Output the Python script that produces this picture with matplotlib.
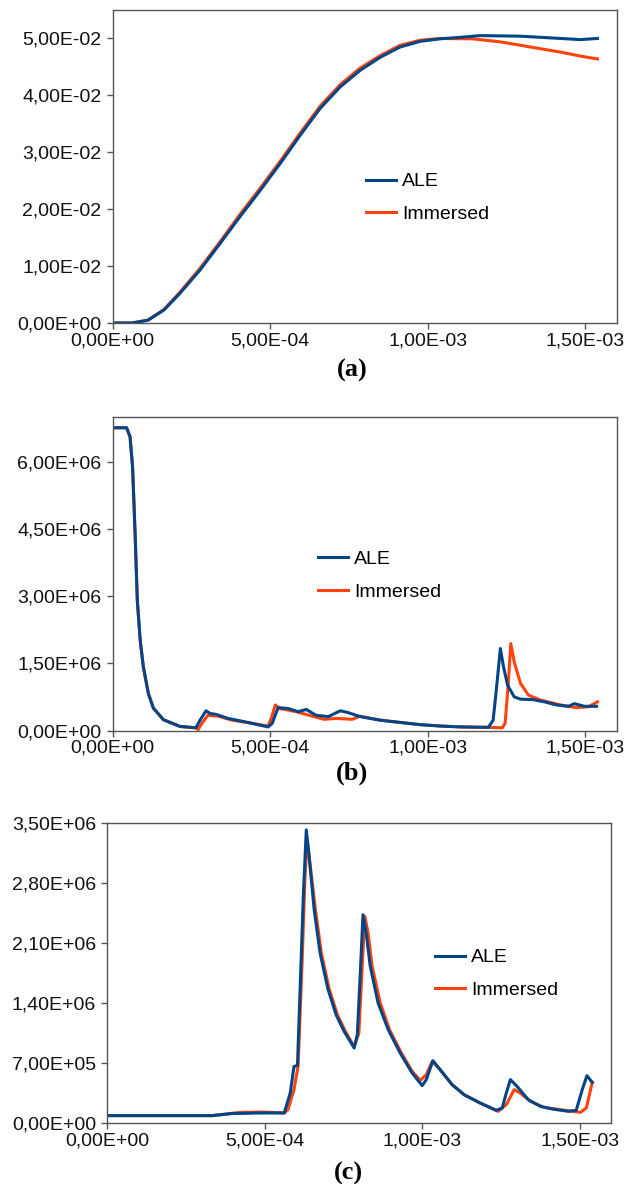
import matplotlib
matplotlib.use("Agg")
import matplotlib.pyplot as plt
from matplotlib.ticker import FuncFormatter, MultipleLocator

plt.rcParams["font.family"] = ["Liberation Sans", "DejaVu Sans"]

BLUE = "#004586"
ORANGE = "#ff420e"

# ---- (a) displacement ----
a_ale_t = [0.0, 0.061e-3, 0.112e-3, 0.163e-3, 0.213e-3, 0.277e-3, 0.341e-3, 0.404e-3,
           0.468e-3, 0.531e-3, 0.595e-3, 0.658e-3, 0.722e-3, 0.785e-3, 0.849e-3,
           0.912e-3, 0.976e-3, 1.039e-3, 1.103e-3, 1.166e-3, 1.294e-3, 1.357e-3,
           1.421e-3, 1.484e-3, 1.538e-3]
a_ale_v = [0.0, 0.0, 0.0005, 0.0023, 0.0052, 0.0093, 0.0140, 0.0187,
           0.0233, 0.0280, 0.0330, 0.0377, 0.0415, 0.0444, 0.0467,
           0.0485, 0.0495, 0.04994, 0.0502, 0.0505, 0.0504, 0.0502,
           0.0500, 0.0498, 0.0500]
a_imm_t = [0.0, 0.061e-3, 0.112e-3, 0.163e-3, 0.213e-3, 0.277e-3, 0.341e-3, 0.404e-3,
           0.468e-3, 0.531e-3, 0.595e-3, 0.658e-3, 0.722e-3, 0.785e-3, 0.849e-3,
           0.912e-3, 0.976e-3, 1.039e-3, 1.103e-3, 1.141e-3, 1.230e-3, 1.294e-3,
           1.357e-3, 1.421e-3, 1.484e-3, 1.538e-3]
a_imm_v = [0.0, 0.0, 0.0005, 0.0024, 0.0054, 0.0096, 0.0143, 0.0191,
           0.0237, 0.0284, 0.0334, 0.0381, 0.0419, 0.0448, 0.0470,
           0.0488, 0.0497, 0.0500, 0.04995, 0.04994, 0.0494, 0.0488,
           0.0482, 0.0476, 0.0469, 0.0464]

# ---- (b) pressure ----
b_ale_t = [0.0, 0.044e-3, 0.055e-3, 0.063e-3, 0.071e-3, 0.078e-3, 0.087e-3, 0.097e-3,
           0.113e-3, 0.129e-3, 0.161e-3, 0.214e-3, 0.264e-3, 0.277e-3, 0.296e-3,
           0.309e-3, 0.328e-3, 0.366e-3, 0.429e-3, 0.493e-3, 0.506e-3, 0.525e-3,
           0.557e-3, 0.588e-3, 0.614e-3, 0.645e-3, 0.684e-3, 0.722e-3, 0.747e-3,
           0.785e-3, 0.849e-3, 0.912e-3, 0.976e-3, 1.039e-3, 1.103e-3, 1.192e-3,
           1.207e-3, 1.217e-3, 1.230e-3, 1.240e-3, 1.253e-3, 1.274e-3, 1.294e-3,
           1.332e-3, 1.370e-3, 1.408e-3, 1.446e-3, 1.465e-3, 1.497e-3, 1.535e-3]
b_ale_v = [6.76e6, 6.76e6, 6.56e6, 5.89e6, 4.41e6, 2.92e6, 2.03e6, 1.43e6,
           0.83e6, 0.50e6, 0.24e6, 0.09e6, 0.06e6, 0.23e6, 0.44e6,
           0.38e6, 0.36e6, 0.27e6, 0.18e6, 0.08e6, 0.16e6, 0.51e6,
           0.49e6, 0.42e6, 0.47e6, 0.34e6, 0.31e6, 0.44e6, 0.40e6,
           0.31e6, 0.23e6, 0.18e6, 0.13e6, 0.10e6, 0.08e6, 0.07e6,
           0.23e6, 0.90e6, 1.83e6, 1.42e6, 1.01e6, 0.75e6, 0.70e6,
           0.69e6, 0.64e6, 0.57e6, 0.54e6, 0.60e6, 0.54e6, 0.54e6]
b_imm_t = [0.0, 0.044e-3, 0.055e-3, 0.063e-3, 0.071e-3, 0.078e-3, 0.087e-3, 0.097e-3,
           0.113e-3, 0.129e-3, 0.161e-3, 0.214e-3, 0.264e-3, 0.271e-3, 0.283e-3,
           0.302e-3, 0.334e-3, 0.379e-3, 0.442e-3, 0.493e-3, 0.503e-3, 0.516e-3,
           0.531e-3, 0.582e-3, 0.633e-3, 0.671e-3, 0.709e-3, 0.760e-3, 0.785e-3,
           0.849e-3, 0.912e-3, 0.976e-3, 1.039e-3, 1.103e-3, 1.192e-3, 1.236e-3,
           1.245e-3, 1.255e-3, 1.263e-3, 1.274e-3, 1.294e-3, 1.319e-3, 1.357e-3,
           1.421e-3, 1.471e-3, 1.509e-3, 1.538e-3]
b_imm_v = [6.76e6, 6.76e6, 6.56e6, 5.89e6, 4.41e6, 2.92e6, 2.03e6, 1.43e6,
           0.83e6, 0.50e6, 0.24e6, 0.09e6, 0.06e6, 0.02e6, 0.16e6,
           0.34e6, 0.32e6, 0.23e6, 0.16e6, 0.10e6, 0.27e6, 0.57e6,
           0.49e6, 0.42e6, 0.32e6, 0.25e6, 0.27e6, 0.25e6, 0.32e6,
           0.23e6, 0.18e6, 0.13e6, 0.10e6, 0.08e6, 0.07e6, 0.06e6,
           0.16e6, 1.05e6, 1.94e6, 1.53e6, 1.05e6, 0.79e6, 0.68e6,
           0.57e6, 0.51e6, 0.53e6, 0.64e6]

# ---- (c) pressure ----
c_ale_t = [0.0, 0.333e-3, 0.396e-3, 0.485e-3, 0.562e-3, 0.581e-3, 0.593e-3, 0.604e-3,
           0.612e-3, 0.623e-3, 0.632e-3, 0.640e-3, 0.657e-3, 0.676e-3, 0.701e-3,
           0.727e-3, 0.752e-3, 0.784e-3, 0.794e-3, 0.803e-3, 0.812e-3, 0.822e-3,
           0.835e-3, 0.860e-3, 0.892e-3, 0.930e-3, 0.968e-3, 1.000e-3, 1.013e-3,
           1.034e-3, 1.057e-3, 1.095e-3, 1.133e-3, 1.184e-3, 1.235e-3, 1.254e-3,
           1.267e-3, 1.280e-3, 1.299e-3, 1.337e-3, 1.375e-3, 1.413e-3, 1.464e-3,
           1.489e-3, 1.508e-3, 1.523e-3, 1.540e-3]
c_ale_v = [0.086e6, 0.086e6, 0.110e6, 0.117e6, 0.117e6, 0.35e6, 0.66e6, 0.67e6,
           1.52e6, 2.68e6, 3.42e6, 3.15e6, 2.49e6, 1.98e6, 1.56e6,
           1.26e6, 1.07e6, 0.875e6, 1.03e6, 1.71e6, 2.43e6, 2.22e6,
           1.83e6, 1.40e6, 1.09e6, 0.817e6, 0.583e6, 0.436e6, 0.506e6,
           0.727e6, 0.622e6, 0.447e6, 0.33e6, 0.233e6, 0.148e6, 0.175e6,
           0.35e6, 0.506e6, 0.436e6, 0.272e6, 0.194e6, 0.163e6, 0.136e6,
           0.148e6, 0.389e6, 0.552e6, 0.474e6]
c_imm_t = [0.0, 0.333e-3, 0.422e-3, 0.498e-3, 0.562e-3, 0.574e-3, 0.593e-3, 0.606e-3,
           0.619e-3, 0.628e-3, 0.635e-3, 0.661e-3, 0.680e-3, 0.705e-3, 0.731e-3,
           0.756e-3, 0.784e-3, 0.799e-3, 0.809e-3, 0.818e-3, 0.828e-3, 0.841e-3,
           0.867e-3, 0.896e-3, 0.934e-3, 0.968e-3, 0.994e-3, 1.013e-3, 1.032e-3,
           1.057e-3, 1.095e-3, 1.133e-3, 1.184e-3, 1.241e-3, 1.267e-3, 1.292e-3,
           1.311e-3, 1.343e-3, 1.387e-3, 1.438e-3, 1.502e-3, 1.521e-3, 1.540e-3]
c_imm_v = [0.086e6, 0.086e6, 0.124e6, 0.128e6, 0.117e6, 0.155e6, 0.39e6, 0.66e6,
           1.90e6, 2.88e6, 3.30e6, 2.49e6, 1.98e6, 1.56e6, 1.26e6,
           1.07e6, 0.89e6, 1.05e6, 1.79e6, 2.41e6, 2.22e6, 1.83e6,
           1.40e6, 1.09e6, 0.817e6, 0.603e6, 0.498e6, 0.564e6, 0.72e6,
           0.622e6, 0.447e6, 0.33e6, 0.233e6, 0.136e6, 0.214e6, 0.389e6,
           0.35e6, 0.253e6, 0.183e6, 0.156e6, 0.124e6, 0.175e6, 0.474e6]

panel_labels = ["(a)", "(b)", "(c)"]
series_names = ["ALE", "Immersed"]

W, H = 628, 1184
fig = plt.figure(figsize=(W / 100, H / 100), dpi=100)


def frac(left, top, right, bottom):
    return [left / W, 1 - bottom / H, (right - left) / W, (bottom - top) / H]


def sci_comma(v, pos):
    return f"{v:.2E}".replace(".", ",")


panels = [
    dict(box=(112.7, 10, 617, 323), ylim=(0, 0.055), ystep=0.01,
         data=(a_ale_t, a_ale_v, a_imm_t, a_imm_v), leg=(366, 198), lab=(352, 370)),
    dict(box=(112.7, 417, 617, 730.5), ylim=(0, 7.0e6), ystep=1.5e6,
         data=(b_ale_t, b_ale_v, b_imm_t, b_imm_v), leg=(318, 575.5), lab=(352, 773)),
    dict(box=(107.2, 823, 611.2, 1123), ylim=(0, 3.5e6), ystep=0.7e6,
         data=(c_ale_t, c_ale_v, c_imm_t, c_imm_v), leg=(435, 974), lab=(348, 1173)),
]

for i, p in enumerate(panels):
    ax = fig.add_axes(frac(*p["box"]))
    at, av, it, iv = p["data"]
    l_imm, = ax.plot(it, iv, color=ORANGE, lw=2.2, solid_joinstyle="round")
    l_ale, = ax.plot(at, av, color=BLUE, lw=2.2, solid_joinstyle="round")
    ax.set_xlim(0, 1.6e-3)
    ax.set_ylim(*p["ylim"])
    ax.xaxis.set_major_locator(MultipleLocator(5e-4))
    ax.yaxis.set_major_locator(MultipleLocator(p["ystep"]))
    ax.xaxis.set_major_formatter(FuncFormatter(sci_comma))
    ax.yaxis.set_major_formatter(FuncFormatter(sci_comma))
    ax.tick_params(direction="out", length=4.5, width=1, color="#555555",
                   labelsize=14, labelcolor="#111111")
    ax.tick_params(axis="y", pad=3.5)
    ax.tick_params(axis="x", pad=2)
    for s in ax.spines.values():
        s.set_color("#555555")
        s.set_linewidth(1.0)
    ax.set_facecolor("white")

    lx, ly = p["leg"]
    ax.legend([l_ale, l_imm], series_names, loc="center left",
              bbox_to_anchor=(lx / W, 1 - ly / H), bbox_transform=fig.transFigure,
              frameon=False, fontsize=14, handlelength=1.55, handletextpad=0.3,
              borderpad=0, borderaxespad=0, labelspacing=0.78)

    tx, ty = p["lab"]
    fig.text(tx / W, 1 - ty / H, panel_labels[i], ha="center", va="center",
             fontsize=19, fontweight="bold", family=["Liberation Serif", "DejaVu Serif"])

fig.savefig("out.png", dpi=100, facecolor="white")
